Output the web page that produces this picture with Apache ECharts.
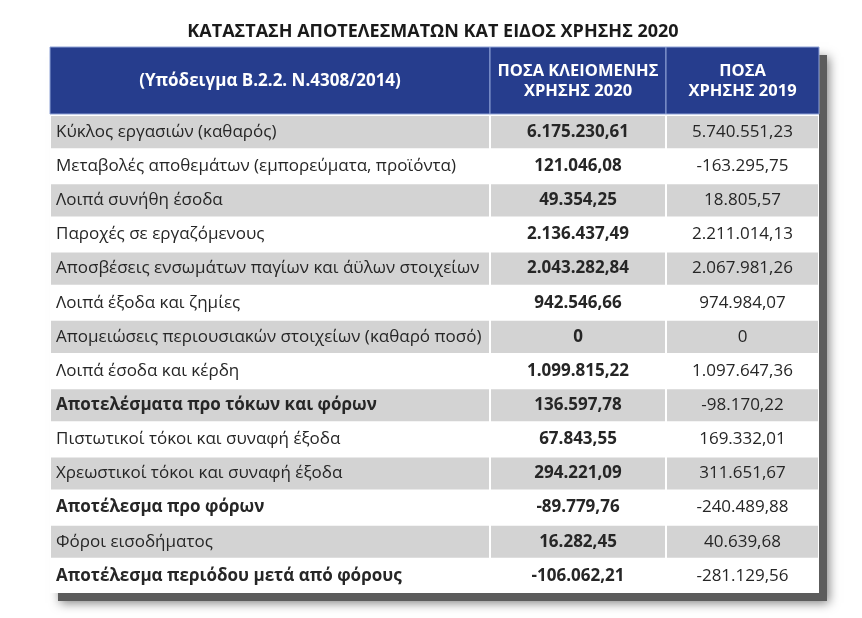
<!DOCTYPE html>
<html>
<head>
<meta charset="utf-8">
<script src="https://cdn.jsdelivr.net/npm/echarts@6/dist/echarts.min.js"></script>
<style>
  html, body { margin: 0; padding: 0; background: #fff; }
  #main { width: 862px; height: 618px; }
</style>
</head>
<body>
<div id="main"></div>
<script>
var titleText = 'ΚΑΤΑΣΤΑΣΗ ΑΠΟΤΕΛΕΣΜΑΤΩΝ ΚΑΤ ΕΙΔΟΣ ΧΡΗΣΗΣ 2020'
var headers = ['(Υπόδειγμα Β.2.2. Ν.4308/2014)', 'ΠΟΣΑ ΚΛΕΙΟΜΕΝΗΣ\nΧΡΗΣΗΣ 2020', 'ΠΟΣΑ\nΧΡΗΣΗΣ 2019']
var rowLabels = [
  'Κύκλος εργασιών (καθαρός)',
  'Μεταβολές αποθεμάτων (εμπορεύματα, προϊόντα)',
  'Λοιπά συνήθη έσοδα',
  'Παροχές σε εργαζόμενους',
  'Αποσβέσεις ενσωμάτων παγίων και άϋλων στοιχείων',
  'Λοιπά έξοδα και ζημίες',
  'Απομειώσεις περιουσιακών στοιχείων (καθαρό ποσό)',
  'Λοιπά έσοδα και κέρδη',
  'Αποτελέσματα προ τόκων και φόρων',
  'Πιστωτικοί τόκοι και συναφή έξοδα',
  'Χρεωστικοί τόκοι και συναφή έξοδα',
  'Αποτέλεσμα προ φόρων',
  'Φόροι εισοδήματος',
  'Αποτέλεσμα περιόδου μετά από φόρους'
]
var amounts2020 = [6175230.61, 121046.08, 49354.25, 2136437.49, 2043282.84, 942546.66, 0,
  1099815.22, 136597.78, 67843.55, 294221.09, -89779.76, 16282.45, -106062.21]
var amounts2019 = [5740551.23, -163295.75, 18805.57, 2211014.13, 2067981.26, 974984.07, 0,
  1097647.36, -98170.22, 169332.01, 311651.67, -240489.88, 40639.68, -281129.56]
var boldRows = [8, 11, 13]

var fontFamily = 'Open Sans'
var headerBlue = '#263d8d'
var grayRow = '#d3d3d3'
var textColor = '#262626'

// column layout
var cols = [
  {left: 50, width: 440, headSize: 17},
  {left: 490, width: 176, headSize: 16.5},
  {left: 666, width: 153, headSize: 16.5}
]
var headTop = 47
var headHeight = 68
var bodyTop = 115
var bodyHeight = 478

function fmt (v) {
  if (v === 0) return '0'
  var s = Math.abs(v).toFixed(2).split('.')
  var intPart = s[0].replace(/\B(?=(\d{3})+(?!\d))/g, '.')
  return (v < 0 ? '-' : '') + intPart + ',' + s[1]
}

function cellText (col, idx) {
  if (col === 0) return rowLabels[idx]
  if (col === 1) return fmt(amounts2020[idx])
  return fmt(amounts2019[idx])
}

function bodyRenderer (col) {
  return function (params, api) {
    var idx = api.value(1)
    var c = api.coord([0, idx])
    var band = api.size([0, 1])[1]
    var cs = params.coordSys
    var y0 = c[1] - band / 2
    var bold = col === 1 || (col === 0 && boldRows.indexOf(idx) >= 0)
    return {
      type: 'group',
      children: [
        {
          type: 'rect',
          shape: {x: cs.x + 1, y: y0 + 1, width: cs.width - 2, height: band - 2},
          style: {fill: idx % 2 === 0 ? grayRow : '#ffffff'}
        },
        {
          type: 'text',
          x: col === 0 ? cs.x + 6 : cs.x + cs.width / 2,
          y: c[1],
          style: {
            text: cellText(col, idx),
            fill: textColor,
            font: (bold ? 'bold ' : '') + '17px "' + fontFamily + '"',
            align: col === 0 ? 'left' : 'center',
            verticalAlign: 'middle'
          }
        }
      ]
    }
  }
}

function headRenderer (col) {
  return function (params, api) {
    var cs = params.coordSys
    return {
      type: 'group',
      children: [
        {
          type: 'rect',
          shape: {x: cs.x, y: cs.y, width: cs.width, height: cs.height - 1},
          style: {fill: headerBlue, stroke: '#8fa3d6', lineWidth: 1}
        },
        {
          type: 'text',
          x: cs.x + cs.width / 2,
          y: cs.y + cs.height / 2,
          style: {
            text: headers[col],
            fill: '#ffffff',
            font: 'bold ' + cols[col].headSize + 'px "' + fontFamily + '"',
            lineHeight: 20,
            align: 'center',
            verticalAlign: 'middle'
          }
        }
      ]
    }
  }
}

var grids = []
var xAxes = []
var yAxes = []
var series = []
var rowIdx = rowLabels.map(function (d, i) { return [0, i] })

cols.forEach(function (c, i) {
  grids.push({left: c.left, width: c.width, top: headTop, height: headHeight})
  grids.push({left: c.left, width: c.width, top: bodyTop, height: bodyHeight})
})
grids.forEach(function (g, gi) {
  xAxes.push({type: 'value', gridIndex: gi, min: 0, max: 1, show: false})
  yAxes.push({
    type: 'category',
    gridIndex: gi,
    inverse: true,
    show: false,
    data: gi % 2 === 0 ? ['h'] : rowLabels
  })
})
cols.forEach(function (c, i) {
  series.push({
    type: 'custom',
    xAxisIndex: i * 2,
    yAxisIndex: i * 2,
    renderItem: headRenderer(i),
    data: [[0, 0]],
    silent: true
  })
  series.push({
    type: 'custom',
    xAxisIndex: i * 2 + 1,
    yAxisIndex: i * 2 + 1,
    renderItem: bodyRenderer(i),
    data: rowIdx,
    silent: true
  })
})

var tableLeft = cols[0].left
var tableWidth = cols[2].left + cols[2].width - tableLeft

var myChart = echarts.init(document.getElementById('main'), null, {renderer: 'canvas'})
var option = {
  backgroundColor: '#ffffff',
  animation: false,
  title: {
    text: titleText,
    left: 428,
    top: 18,
    textAlign: 'center',
    textStyle: {fontFamily: fontFamily, fontWeight: 'bold', fontSize: 18, color: '#1a1a1a'}
  },
  graphic: [
    {
      type: 'rect',
      z: -10,
      shape: {x: tableLeft + 8, y: headTop + 8, width: tableWidth, height: headHeight + bodyHeight},
      style: {fill: '#5c5c5c', shadowBlur: 10, shadowColor: 'rgba(0,0,0,0.5)', shadowOffsetX: 2, shadowOffsetY: 2}
    },
    {
      type: 'rect',
      z: -9,
      shape: {x: tableLeft, y: headTop, width: tableWidth, height: headHeight + bodyHeight},
      style: {fill: '#ffffff'}
    }
  ],
  grid: grids,
  xAxis: xAxes,
  yAxis: yAxes,
  series: series
}
myChart.setOption(option, true)
</script>
</body>
</html>
